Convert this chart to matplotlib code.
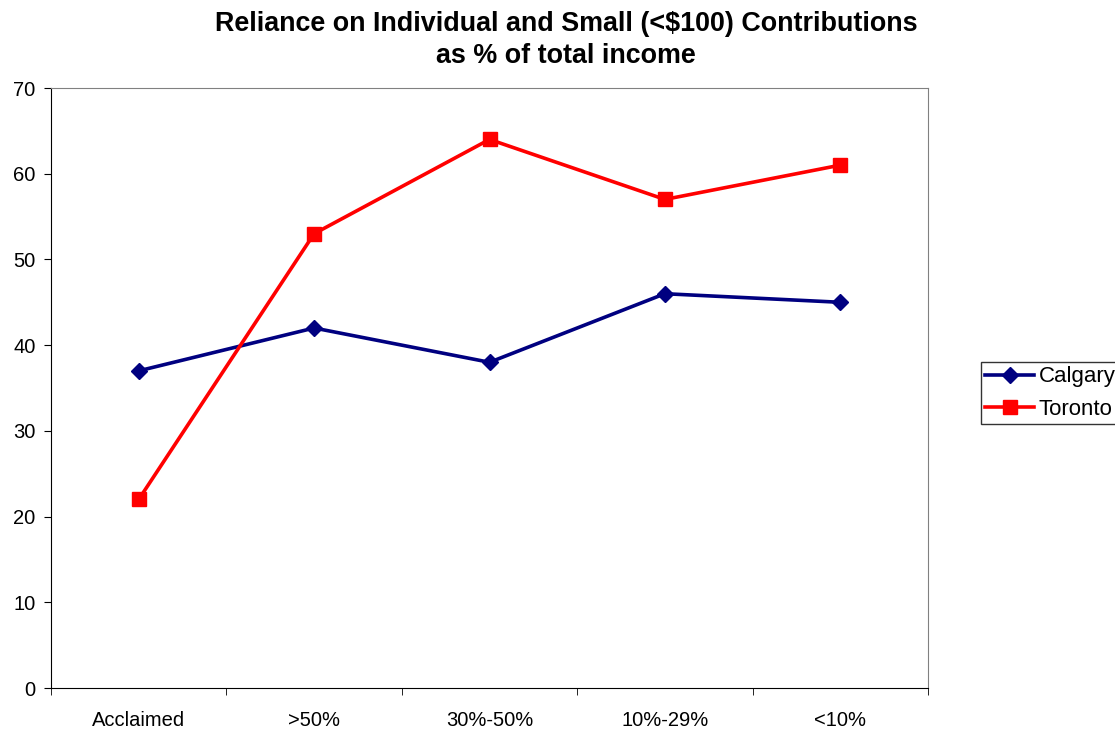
import matplotlib
matplotlib.use("Agg")
import matplotlib.pyplot as plt

categories = ["Acclaimed", ">50%", "30%-50%", "10%-29%", "<10%"]
calgary = [37, 42, 38, 46, 45]
toronto = [22, 53, 64, 57, 61]

plt.rcParams.update({"font.family": ["Liberation Sans", "DejaVu Sans"]})

fig = plt.figure(figsize=(11.15, 7.29), dpi=100)
ax = fig.add_axes([51 / 1115, 41 / 729, 877 / 1115, 600 / 729])

x = range(len(categories))
ax.plot(x, calgary, "-D", color="#000080", lw=2.6, ms=8.5, label="Calgary")
ax.plot(x, toronto, "-s", color="#FF0000", lw=2.6, ms=10, label="Toronto")

ax.set_xlim(-0.5, len(categories) - 0.5)
ax.set_ylim(0, 70)
ax.set_yticks(range(0, 71, 10))
ax.set_xticks(list(x))
ax.set_xticklabels(categories)
ax.set_xticks([i - 0.5 for i in range(len(categories) + 1)], minor=True)
ax.tick_params(axis="x", which="major", length=0, pad=16.5, labelsize=14.5)
ax.tick_params(axis="x", which="minor", length=5, direction="out", color="black")
ax.tick_params(axis="y", length=5, direction="out", labelsize=14.5, pad=6)

for s in ("top", "right"):
    ax.spines[s].set_color("#808080")
for s in ("left", "bottom"):
    ax.spines[s].set_color("black")

fig.text(566 / 1115, 1 - 40 / 729,
         "Reliance on Individual and Small (<$100) Contributions\nas % of total income",
         ha="center", va="center", fontsize=19.4, fontweight="bold", linespacing=1.3)

leg = fig.legend(loc="upper left", bbox_to_anchor=(981 / 1115, 1 - 362 / 729), fontsize=16,
                 frameon=True, fancybox=False, edgecolor="black", handlelength=2.2,
                 borderpad=0.2, labelspacing=0.5, handletextpad=0.2, borderaxespad=0)
leg.get_frame().set_linewidth(1.0)

fig.savefig("out.png", dpi=100)
